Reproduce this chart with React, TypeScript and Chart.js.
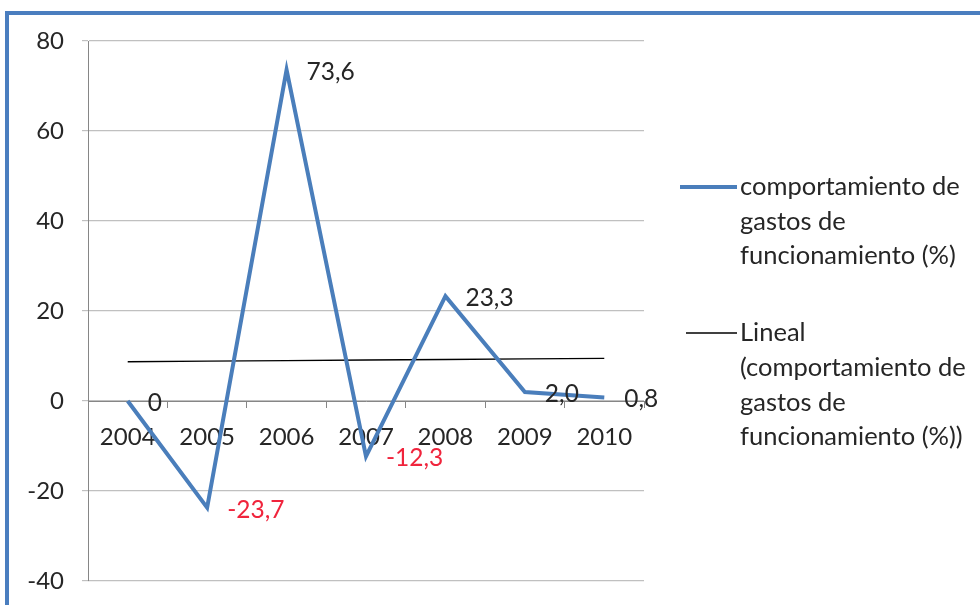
import React, { useEffect, useRef } from "react";
import { Chart, registerables } from "chart.js";

Chart.register(...registerables);

const categories = ["2004", "2005", "2006", "2007", "2008", "2009", "2010"];
const values = [0, -23.7, 73.6, -12.3, 23.3, 2.0, 0.8];
const valueLabels = ["0", "-23,7", "73,6", "-12,3", "23,3", "2,0", "0,8"];
const seriesName = ["comportamiento de", "gastos de", "funcionamiento (%)"];
const trendName = ["Lineal", "(comportamiento de", "gastos de", "funcionamiento (%))"];
const yMin = -40;
const yMax = 80;
const yStep = 20;

// linear regression trendline derived from the series
function linearTrend(ys: number[]): number[] {
  const n = ys.length;
  const mx = (n - 1) / 2;
  const my = ys.reduce((a, b) => a + b, 0) / n;
  let sxy = 0;
  let sxx = 0;
  ys.forEach((y, i) => {
    sxy += (i - mx) * (y - my);
    sxx += (i - mx) * (i - mx);
  });
  const slope = sxy / sxx;
  return ys.map((_, i) => my + slope * (i - mx));
}

const FONT = "Lato, 'Open Sans', sans-serif";
const BLUE = "#4a7ebb";
const RED = "#f0243c";
const TEXT = "#262626";

const labelsPlugin = {
  id: "valueLabels",
  afterDatasetsDraw(chart: any) {
    const ctx = chart.ctx;
    const meta = chart.getDatasetMeta(0);
    ctx.save();
    ctx.font = `24.5px ${FONT}`;
    ctx.textAlign = "left";
    ctx.textBaseline = "middle";
    meta.data.forEach((pt: any, i: number) => {
      ctx.fillStyle = values[i] < 0 ? RED : TEXT;
      ctx.fillText(valueLabels[i], pt.x + 20, pt.y + 2);
    });
    ctx.restore();
  },
};

const legendPlugin = {
  id: "customLegend",
  afterDraw(chart: any) {
    const ctx = chart.ctx;
    ctx.save();
    ctx.font = `25.5px ${FONT}`;
    ctx.textAlign = "left";
    ctx.textBaseline = "middle";
    ctx.fillStyle = TEXT;
    // series entry
    ctx.strokeStyle = BLUE;
    ctx.lineWidth = 4;
    ctx.beginPath();
    ctx.moveTo(680, 187);
    ctx.lineTo(737, 187);
    ctx.stroke();
    seriesName.forEach((t, i) => ctx.fillText(t, 740, 187 + i * 34.5));
    // trend entry
    ctx.strokeStyle = "#000";
    ctx.lineWidth = 1.3;
    ctx.beginPath();
    ctx.moveTo(686, 333);
    ctx.lineTo(737, 333);
    ctx.stroke();
    trendName.forEach((t, i) => ctx.fillText(t, 740, 333 + i * 34.7));
    ctx.restore();
  },
};

export default function App() {
  const ref = useRef<HTMLCanvasElement | null>(null);

  useEffect(() => {
    document.body.style.margin = "0";
    if (!ref.current) return;
    const chart = new Chart(ref.current, {
      type: "line",
      data: {
        labels: categories,
        datasets: [
          {
            label: seriesName.join(" "),
            data: values,
            borderColor: BLUE,
            borderWidth: 4,
            pointRadius: 0,
            tension: 0,
            fill: false,
          },
          {
            label: trendName.join(" "),
            data: linearTrend(values),
            borderColor: "#000000",
            borderWidth: 1.4,
            pointRadius: 0,
            tension: 0,
            fill: false,
          },
        ],
      },
      options: {
        animation: false,
        responsive: false,
        maintainAspectRatio: false,
        layout: { padding: { left: 0, right: 336, top: 41, bottom: 24 } },
        plugins: {
          legend: { display: false },
          tooltip: { enabled: false },
          title: { display: false },
        },
        scales: {
          x: {
            type: "category",
            position: { y: 0 },
            offset: true,
            grid: {
              display: true,
              offset: true,
              drawOnChartArea: false,
              drawTicks: true,
              tickLength: 6,
              color: "#868686",
            },
            border: { display: true, color: "#868686", width: 1 },
            ticks: {
              color: TEXT,
              font: { family: FONT, size: 24 },
              padding: 16,
              maxRotation: 0,
              autoSkip: false,
            },
            afterFit(scale: any) {
              scale.height = 0;
              scale.paddingLeft = 0;
              scale.paddingRight = 0;
            },
          },
          y: {
            min: yMin,
            max: yMax,
            grid: {
              color: "#c0c0c0",
              lineWidth: 1.2,
              drawTicks: true,
              tickLength: 6,
            },
            border: { display: true, color: "#868686", width: 1 },
            ticks: {
              stepSize: yStep,
              color: TEXT,
              font: { family: FONT, size: 24 },
              padding: 18,
            },
            afterFit(scale: any) {
              scale.width = 88;
              scale.paddingTop = 0;
              scale.paddingBottom = 0;
            },
          },
        },
      },
      plugins: [labelsPlugin, legendPlugin],
    });
    return () => chart.destroy();
  }, []);

  return (
    <div style={{ position: "relative", width: 980, height: 605, overflow: "hidden", background: "#fff" }}>
      <div
        style={{
          position: "absolute",
          left: 5,
          top: 11,
          width: 1200,
          height: 800,
          borderTop: "4px solid #4a7ebf",
          borderLeft: "4px solid #4a7ebf",
          boxSizing: "border-box",
        }}
      />
      <canvas ref={ref} width={980} height={605} style={{ position: "absolute", left: 0, top: 0 }} />
    </div>
  );
}
